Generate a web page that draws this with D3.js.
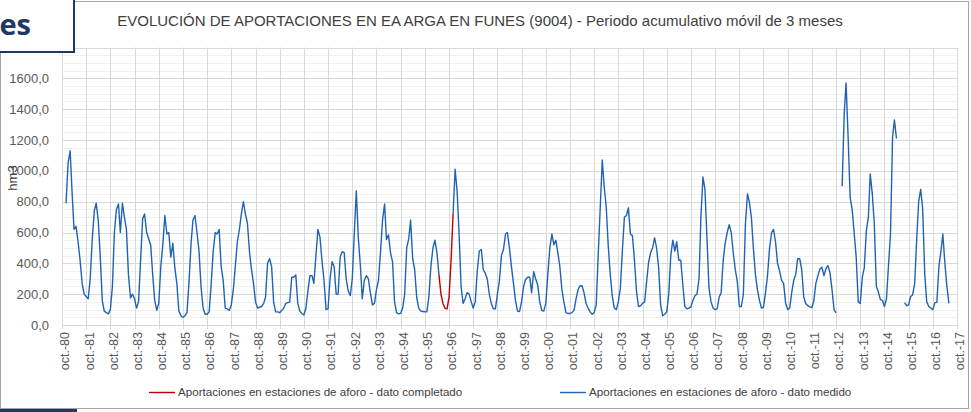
<!DOCTYPE html>
<html>
<head>
<meta charset="utf-8">
<script src="https://cdn.jsdelivr.net/npm/d3@7"></script>
<style>
  html, body { margin: 0; padding: 0; background: #fff; }
  svg { display: block; font-family: "Liberation Sans", Arial, sans-serif; }
</style>
</head>
<body>
<svg id="chart" width="971" height="412"></svg>
<script>
// 3-month moving sums (hm3), one value per month, first value = dic-80
var inicioMedido = new Date(1980, 11, 1);
var medido1980s = [790, 1050, 1130, 870, 620, 640, 540, 420, 270, 200,
  185, 170, 300, 560, 740, 790, 680, 450, 160, 90, 80, 72,
  100, 250, 600, 750, 785, 600, 790, 700, 620, 330, 175, 200,
  170, 110, 150, 420, 690, 720, 600, 560, 520, 330, 160, 95,
  140, 380, 520, 710, 590, 600, 440, 530, 370, 270, 90, 60,
  50, 60, 80, 280, 530, 680, 710, 600, 480, 250, 110, 70,
  70, 85, 260, 480, 600, 590, 620, 380, 290, 110, 105, 95,
  130, 230, 380, 540, 620, 720, 800, 720, 660, 480, 360, 270,
  150, 110, 115, 120, 140, 180, 400, 430, 380, 150, 85, 85,
  80, 95, 110, 140, 145, 148, 310, 310, 325, 140, 90, 75];
var medido1990s = [65, 110, 220, 320, 320, 270, 450, 620, 570, 420, 290, 100,
  105, 300, 410, 380, 200, 200, 440, 475, 470, 300, 220, 190,
  300, 600, 870, 560, 380, 170, 290, 320, 300, 210, 130, 140,
  230, 290, 470, 680, 785, 555, 585, 470, 410, 150, 80, 72,
  75, 110, 200, 500, 560, 680, 430, 360, 180, 110, 90, 88,
  86, 85, 180, 380, 500, 550, 470, 330, null, null, null, null,
  null, null, 720, 1010, 860, 600, 250, 140, 170, 210, 200, 150,
  110, 150, 350, 480, 490, 360, 335, 300, 200, 140, 105, 105,
  200, 290, 450, 490, 590, 600, 500, 380, 270, 160, 90, 88,
  150, 250, 295, 310, 310, 210, 345, 300, 260, 150, 95, 90];
var medido2000s = [140, 330, 500, 590, 520, 550, 470, 380, 230, 150, 80, 75,
  75, 80, 95, 170, 230, 255, 255, 210, 140, 110, 85, 70,
  80, 130, 450, 760, 1070, 900, 770, 520, 330, 190, 110, 100,
  150, 240, 480, 700, 710, 760, 590, 580, 420, 220, 120, 125,
  140, 150, 280, 410, 470, 500, 565, 500, 370, 130, 60, 70,
  85, 200, 450, 550, 480, 540, 420, 420, 260, 120, 105, 110,
  118, 160, 190, 200, 300, 700, 960, 880, 560, 240, 150, 110,
  100, 105, 180, 210, 420, 530, 600, 650, 600, 470, 360, 280,
  120, 120, 200, 650, 850, 800, 700, 500, 330, 230, 160, 110,
  115, 210, 320, 500, 600, 620, 540, 400, 350, 290, 270, 140];
var medido2010s = [100, 110, 210, 290, 330, 430, 430, 360, 180, 140, 125, 118,
  112, 160, 270, 320, 365, 375, 320, 365, 385, 340, 230, 100,
  78, null, null, 900, 1370, 1570, 1220, 830, 750, 600, 440, 150,
  140, 310, 370, 610, 700, 980, 850, 660, 250, 215, 165, 160,
  120, 170, 380, 590, 1220, 1330, 1210, null, null, null, 145, 125,
  130, 185, 195, 270, 560, 800, 880, 750, 330, 150, 120, 110,
  100, 145, 147, 380, 480, 590, 400, 250, 140];

var inicioCompletado = new Date(1996, 4, 1);
var completado = [330, 200, 140, 108, 105, 180, 420, 720];

var yGrid = [0, 200, 400, 600, 800, 1000, 1200, 1400, 1600, 1800];
var yLabels = [0, 200, 400, 600, 800, 1000, 1200, 1400, 1600];
var yearTicks = d3.range(1980, 2018);

var titulo = "EVOLUCIÓN DE APORTACIONES EN EA ARGA EN FUNES (9004) - Periodo acumulativo móvil de 3 meses";
var leyenda = ["Aportaciones en estaciones de aforo - dato completado",
               "Aportaciones en estaciones de aforo - dato medido"];

(function(){
    var svg = d3.select('#chart');
    var colMedido = '#1f64b4', colCompletado = '#c00000', txt = '#595959';
    var mLeft = 62, mRight = 957, mTop = 47.5, mBottom = 325;

    var x = d3.scaleTime()
        .domain([new Date(1980, 9, 1), new Date(2017, 9, 1)])
        .range([mLeft, mRight]);
    var y = d3.scaleLinear().domain([0, 1800]).range([mBottom, mTop]);

    var medido = [].concat(medido1980s, medido1990s, medido2000s, medido2010s)
        .map(function(v, i){ return {date: d3.timeMonth.offset(inicioMedido, i), v: v}; });
    var comp = completado.map(function(v, i){
        return {date: d3.timeMonth.offset(inicioCompletado, i), v: v};
    });

    var es = d3.formatLocale({decimal: ",", thousands: ".", grouping: [3], currency: ["", " €"]});
    var fmt = es.format(".1f");

    // chart frame
    svg.append('rect').attr('x', 0.5).attr('y', 1.5).attr('width', 968).attr('height', 407)
        .attr('fill', '#fff').attr('stroke', '#a6a6a6');

    // minor horizontal grid
    svg.append('g').selectAll('line').data(d3.range(0, 1801, 50).filter(function(d){ return d % 200; }))
        .join('line')
        .attr('x1', mLeft).attr('x2', mRight)
        .attr('y1', function(d){ return Math.round(y(d)) + 0.5; })
        .attr('y2', function(d){ return Math.round(y(d)) + 0.5; })
        .attr('stroke', '#f0f0f0');

    // major horizontal grid
    svg.append('g').selectAll('line').data(yGrid)
        .join('line')
        .attr('x1', mLeft).attr('x2', mRight)
        .attr('y1', function(d){ return Math.round(y(d)) + 0.5; })
        .attr('y2', function(d){ return Math.round(y(d)) + 0.5; })
        .attr('stroke', '#d9d9d9');

    // vertical grid
    var yearDates = yearTicks.map(function(yr){ return new Date(yr, 9, 1); });
    svg.append('g').selectAll('line').data(yearDates)
        .join('line')
        .attr('x1', function(d){ return Math.round(x(d)) + 0.5; })
        .attr('x2', function(d){ return Math.round(x(d)) + 0.5; })
        .attr('y1', mTop).attr('y2', mBottom + 4)
        .attr('stroke', '#d9d9d9');

    // y axis labels
    svg.append('g').selectAll('text').data(yLabels)
        .join('text')
        .attr('x', 49).attr('y', function(d){ return y(d); })
        .attr('dy', '0.35em')
        .attr('text-anchor', 'end')
        .attr('font-size', 13).attr('fill', txt)
        .text(fmt);

    // x axis labels
    svg.append('g').selectAll('text').data(yearDates)
        .join('text')
        .attr('transform', function(d){ return 'translate(' + (x(d) + 3) + ',' + (mBottom + 7) + ') rotate(-90)'; })
        .attr('dy', '0.35em')
        .attr('text-anchor', 'end')
        .attr('font-size', 12.5).attr('fill', txt)
        .text(function(d){ return 'oct.-' + d3.timeFormat('%y')(d); });

    // axis lines
    svg.append('line').attr('x1', mLeft + 0.5).attr('x2', mLeft + 0.5).attr('y1', mTop).attr('y2', mBottom)
        .attr('stroke', '#d9d9d9');
    svg.append('line').attr('x1', mLeft).attr('x2', mRight).attr('y1', mBottom + 0.5).attr('y2', mBottom + 0.5)
        .attr('stroke', '#d9d9d9');

    // y title
    svg.append('text')
        .attr('transform', 'translate(12,178) rotate(-90)')
        .attr('dy', '0.35em').attr('text-anchor', 'middle')
        .attr('font-size', 13).attr('fill', '#404040')
        .text('hm3');

    // series
    var line = d3.line()
        .defined(function(d){ return d.v != null; })
        .x(function(d){ return x(d.date); })
        .y(function(d){ return y(d.v); });

    svg.append('path').datum(comp)
        .attr('d', line)
        .attr('fill', 'none').attr('stroke', colCompletado).attr('stroke-width', 1.4)
        .attr('stroke-linejoin', 'round');

    svg.append('path').datum(medido)
        .attr('d', line)
        .attr('fill', 'none').attr('stroke', colMedido).attr('stroke-width', 1.4)
        .attr('stroke-linejoin', 'round');

    // title
    svg.append('text')
        .attr('x', 480).attr('y', 26)
        .attr('text-anchor', 'middle')
        .attr('font-size', 15).attr('fill', '#404040')
        .text(titulo);

    // legend
    var legX = [149, 560];
    var lg = svg.append('g').selectAll('g').data(leyenda).join('g')
        .attr('transform', function(d, i){ return 'translate(' + legX[i] + ',392)'; });
    lg.append('line').attr('x1', 0).attr('x2', 26).attr('y1', 0.5).attr('y2', 0.5)
        .attr('stroke', function(d, i){ return i === 0 ? colCompletado : colMedido; })
        .attr('stroke-width', 1.4);
    lg.append('text').attr('x', 29).attr('dy', '0.35em')
        .attr('font-size', 11.6).attr('fill', '#404040')
        .text(function(d){ return d; });

    // slide overlay: header box and bottom strip
    svg.append('rect').attr('x', -3).attr('y', -3).attr('width', 77).attr('height', 55)
        .attr('fill', '#fff').attr('stroke', '#1f3864').attr('stroke-width', 2);
    svg.append('text').attr('x', 31).attr('y', 35).attr('text-anchor', 'end')
        .attr('font-family', '"Open Sans", sans-serif')
        .attr('font-size', 29).attr('font-weight', 'bold').attr('fill', '#1f3864')
        .text('Funes');
    svg.append('rect').attr('x', -3).attr('y', -3).attr('width', 3).attr('height', 55).attr('fill', '#fff');
    svg.append('rect').attr('x', 0).attr('y', 409).attr('width', 77).attr('height', 3).attr('fill', '#1f3864');
})();
</script>
</body>
</html>
